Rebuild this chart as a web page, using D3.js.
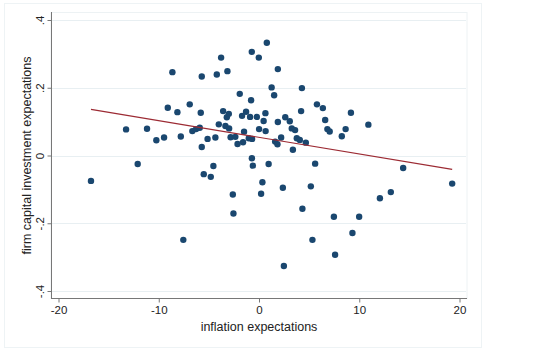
<!DOCTYPE html>
<html>
<head>
<meta charset="utf-8">
<script src="https://cdn.jsdelivr.net/npm/d3@7"></script>
<style>
  html, body { margin: 0; padding: 0; background: #fff; }
  text { font-family: "Liberation Sans", Arial, sans-serif; fill: #222; }
</style>
</head>
<body>
<svg id="chart" width="547" height="357"></svg>
<script>
// ---- data ----
const inflation = [
  -16.76, -13.26, -12.10, -11.17, -10.24, -9.47, -9.10, -8.64, -8.14, -7.80,
  -7.55, -6.91, -6.65, -6.28, -5.91, -5.81, -5.71, -5.71, -5.51, -5.13,
  -4.81, -4.55, -4.35, -4.21, -4.01, -3.78, -3.58, -3.35, -3.21, -3.15,
  -3.01, -2.98, -2.83, -2.61, -2.55, -2.36, -2.14, -1.92, -1.69, -1.59,
  -1.49, -1.29, -1.02, -0.89, -0.79, -0.72, -0.69, -0.71, -0.61, -0.22,
  -0.02, 0.01, 0.21, 0.34, 0.46, 0.64, 0.66, 0.78, 0.96, 1.26,
  1.51, 1.61, 1.84, 1.88, 1.88, 2.21, 2.38, 2.48, 2.62, 3.07,
  3.27, 3.60, 3.38, 3.77, 4.07, 4.67, 4.20, 4.28, 4.33, 5.17,
  5.33, 5.60, 5.78, 6.37, 6.60, 6.82, 7.05, 7.47, 7.59, 8.26,
  8.64, 9.17, 9.32, 9.99, 10.91, 12.06, 13.15, 14.38, 19.27
];
const investment = [
  -0.075, 0.077, -0.025, 0.079, 0.045, 0.053, 0.141, 0.246, 0.128, 0.056,
  -0.249, 0.151, 0.072, 0.078, 0.082, 0.126, 0.233, 0.025, -0.055, 0.049,
  -0.063, -0.031, 0.053, 0.239, 0.092, 0.289, 0.131, 0.087, 0.113, 0.249,
  0.123, 0.080, 0.054, -0.115, -0.171, 0.055, 0.034, 0.182, 0.117, 0.039,
  0.070, 0.129, 0.051, 0.114, 0.163, 0.306, 0.049, -0.008, -0.030, 0.114,
  0.289, 0.078, -0.113, -0.079, 0.102, 0.125, 0.072, 0.333, -0.025, 0.201,
  0.178, 0.041, 0.033, 0.255, 0.099, 0.053, -0.095, -0.326, 0.113, 0.101,
  0.080, 0.075, 0.017, 0.051, 0.046, 0.038, 0.131, 0.199, -0.157, -0.091,
  -0.249, -0.024, 0.151, 0.140, 0.105, 0.078, 0.071, -0.181, -0.293, 0.057,
  0.078, 0.126, -0.229, -0.181, 0.091, -0.126, -0.108, -0.037, -0.083
];
// linear fit endpoints (as drawn in the reference)
const fitX = [-16.76, 19.27];
const fitY = [0.136, -0.041];

const xTicks = [-20, -10, 0, 10, 20];
const xTickLabels = ["-20", "-10", "0", "10", "20"];
const yTicks = [-0.4, -0.2, 0, 0.2, 0.4];
const yTickLabels = ["-.4", "-.2", "0", ".2", ".4"];
const xTitle = "inflation expectations";
const yTitle = "firm capital investment expectations";

// ---- drawing ----
const svg = d3.select("#chart");

const plot = { left: 51, right: 467, top: 12, bottom: 298 };

const x = d3.scaleLinear().domain([-20, 20]).range([58.5, 459.5]);
const y = d3.scaleLinear().domain([-0.4, 0.4]).range([291, 20]);

// outer graph region outline
svg.append("rect")
  .attr("x", 4.5).attr("y", 3.5).attr("width", 477).attr("height", 344)
  .attr("fill", "#fff").attr("stroke", "#eef3f5").attr("stroke-width", 1);

// plot region outline (faint)
svg.append("rect")
  .attr("x", plot.left).attr("y", plot.top + 0.5)
  .attr("width", plot.right - plot.left).attr("height", plot.bottom - plot.top)
  .attr("fill", "#fff").attr("stroke", "#edf2f4").attr("stroke-width", 1);

// gridlines
svg.append("g").selectAll("line").data(yTicks).join("line")
  .attr("x1", plot.left).attr("x2", plot.right - 1)
  .attr("y1", d => Math.round(y(d)) + 0.5).attr("y2", d => Math.round(y(d)) + 0.5)
  .attr("stroke", "#e8eff2").attr("stroke-width", 1.2);

// x axis
const xAxis = svg.append("g")
  .attr("transform", `translate(0,${plot.bottom + 0.5})`)
  .call(d3.axisBottom(x).tickValues(xTicks).tickSize(4).tickPadding(3)
    .tickFormat((d, i) => xTickLabels[i]));
xAxis.select(".domain").attr("d", `M${plot.left},0H${plot.right}`).attr("stroke", "#777");
xAxis.selectAll(".tick line").attr("stroke", "#777");
xAxis.selectAll(".tick text").attr("font-size", 11.5).attr("fill", "#222")
  .attr("font-family", "Liberation Sans, Arial, sans-serif");

// y axis
const yAxis = svg.append("g")
  .attr("transform", `translate(${plot.left + 0.5},0)`)
  .call(d3.axisLeft(y).tickValues(yTicks).tickSize(4).tickFormat((d, i) => yTickLabels[i]));
yAxis.select(".domain").attr("d", `M0,${plot.top}V${plot.bottom}`).attr("stroke", "#777");
yAxis.selectAll(".tick line").attr("stroke", "#777");
yAxis.selectAll(".tick text")
  .attr("font-size", 11.5).attr("fill", "#222")
  .attr("font-family", "Liberation Sans, Arial, sans-serif")
  .attr("text-anchor", "middle")
  .attr("dy", 0)
  .attr("x", 0)
  .attr("transform", "translate(-7.5,0) rotate(-90)");

// points
const pts = inflation.map((v, i) => ({ x: v, y: investment[i] }));
svg.append("g").selectAll("circle").data(pts).join("circle")
  .attr("cx", d => x(d.x)).attr("cy", d => y(d.y)).attr("r", 3.2)
  .attr("fill", "#1a476f");

// fitted line
const line = d3.line().x(d => x(d[0])).y(d => y(d[1]));
svg.append("path")
  .datum(fitX.map((v, i) => [v, fitY[i]]))
  .attr("d", line)
  .attr("fill", "none").attr("stroke", "#9c2a33").attr("stroke-width", 1.2);

// titles
svg.append("text")
  .attr("x", 259).attr("y", 331)
  .attr("text-anchor", "middle").attr("font-size", 12.5)
  .text(xTitle);

svg.append("text")
  .attr("transform", `translate(31,155.5) rotate(-90)`)
  .attr("text-anchor", "middle").attr("font-size", 12.5)
  .text(yTitle);
</script>
</body>
</html>
